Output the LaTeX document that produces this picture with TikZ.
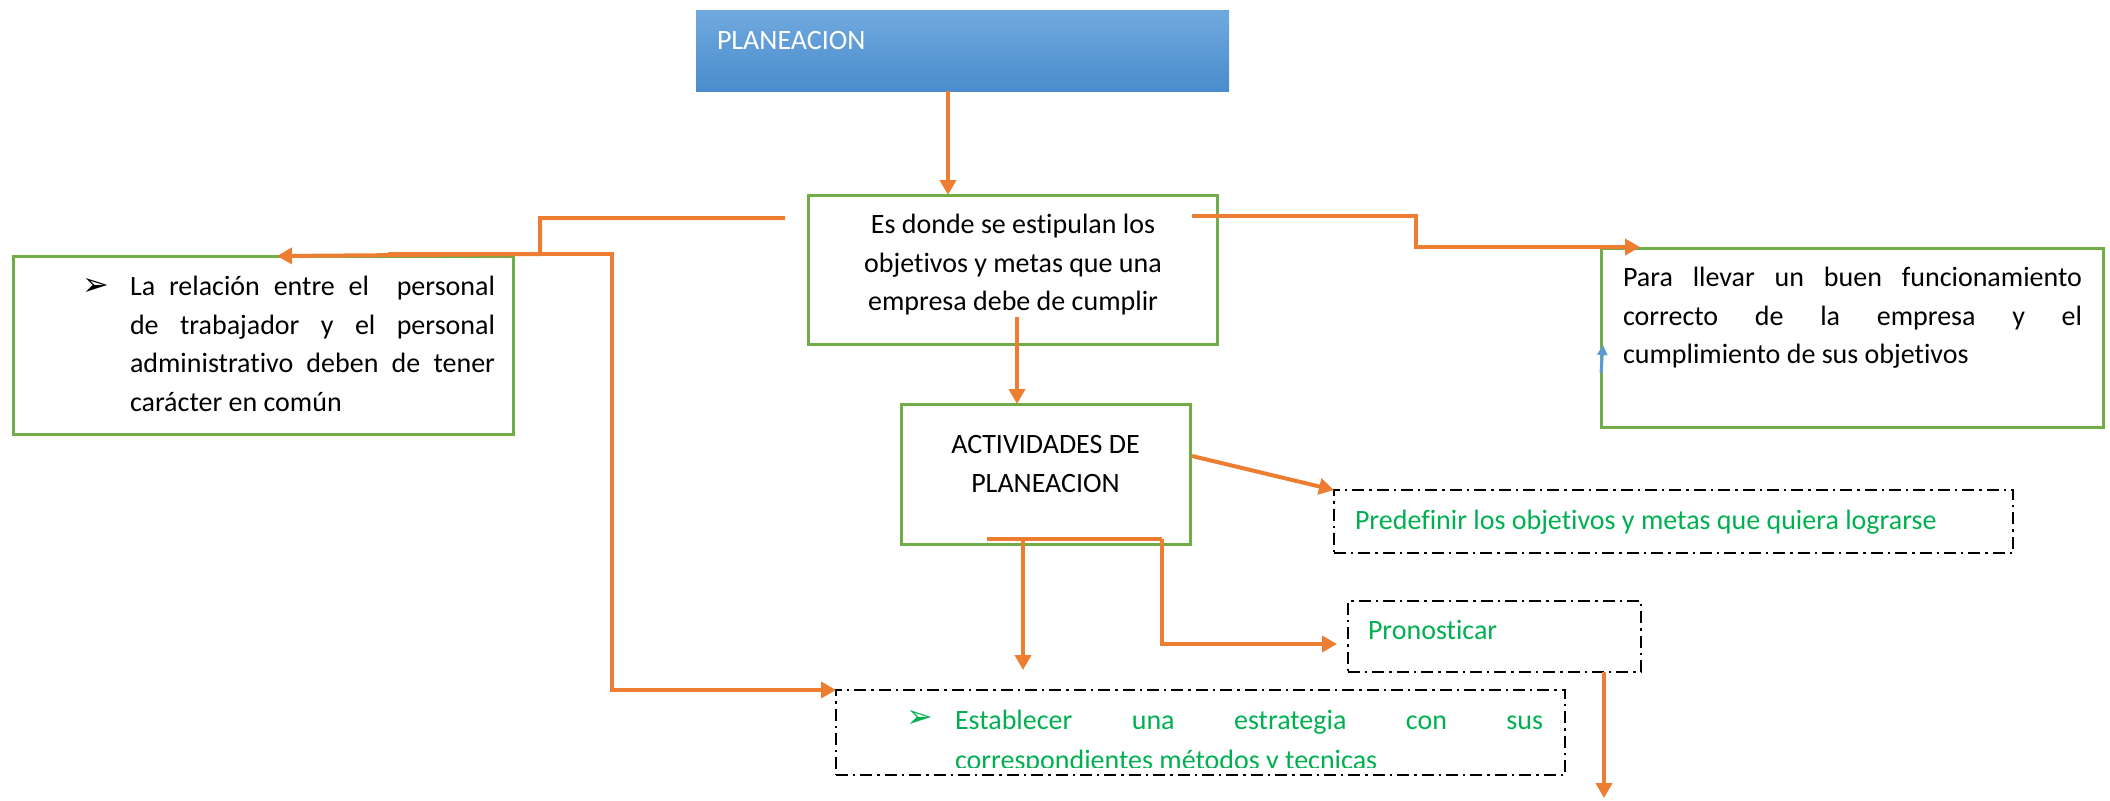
\documentclass[tikz,border=0pt]{standalone}
\usepackage{fontspec}
\setmainfont{Carlito}[Ligatures=NoCommon]
\newfontfamily\dejavu{DejaVu Sans}
\usetikzlibrary{arrows.meta,calc}
\definecolor{ogreen}{HTML}{70AD47}
\definecolor{oorange}{HTML}{ED7D31}
\definecolor{tgreen}{HTML}{00B050}
\definecolor{oblue}{HTML}{5B9BD5}
\definecolor{btop}{HTML}{70A9DE}
\definecolor{bbot}{HTML}{4A8CCD}
\begin{document}
\begin{tikzpicture}[x=0.5pt,y=-0.5pt,
  gbox/.style={draw=ogreen,line width=1.5pt,inner sep=0pt,outer sep=0pt},
  dbox/.style={draw=black,line width=1.25pt,dash pattern=on 6pt off 2.5pt on 1.2pt off 2.5pt,inner sep=0pt,outer sep=0pt},
  conn/.style={draw=oorange,line width=2pt,-{Triangle[length=7.5pt,width=8pt]}},
  oline/.style={draw=oorange,line width=2pt},
  txt/.style={inner sep=0pt,outer sep=0pt,font=\fontsize{14}{19.25}\selectfont},
  bul/.style={inner sep=0pt,outer sep=0pt,font=\dejavu\fontsize{16}{18}\selectfont},
]
\useasboundingbox (0,0) rectangle (2110,800);

% boxes
\node[top color=btop,bottom color=bbot,draw=none,inner sep=0pt,outer sep=0pt,
      minimum width=266.5pt,minimum height=40.5pt] (plan) at (962.5,50.5) {};
\node[gbox,minimum width=204.5pt,minimum height=74.5pt] (es) at (1012.5,269.5) {};
\node[gbox,minimum width=144.5pt,minimum height=70pt] (act) at (1045.5,474) {};
\node[gbox,minimum width=250pt,minimum height=89pt] (rel) at (263,345) {};
\node[gbox,minimum width=251pt,minimum height=89.5pt] (para) at (1852,337.5) {};
\node[dbox,minimum width=339.5pt,minimum height=31.5pt] (pred) at (1673.5,521.5) {};
\node[dbox,minimum width=146.5pt,minimum height=35.5pt] (pron) at (1494.5,636.5) {};
\node[dbox,minimum width=364.5pt,minimum height=42.5pt] (est) at (1200.5,732.5) {};

% texts
\node[txt,anchor=base west,text=white] (tplan) at (717,49) {PLANEACION};
\node[txt,anchor=north,align=center] (tes) at (1013,207)
  {\strut Es donde se estipulan los\\objetivos y metas que una\\empresa debe de cumplir};
\node[txt,anchor=north,align=center] (tact) at (1045.5,427)
  {\strut ACTIVIDADES DE\\PLANEACION};
\node[bul,anchor=base west] (brel) at (82,295) {➢};
\node[txt,anchor=north west,text width=182.5pt,align=justify] (trel) at (130,269)
  {\strut La relación entre el\ \ personal\linebreak de trabajador y el personal\linebreak administrativo deben de tener\linebreak carácter en común};
\node[txt,anchor=north west,text width=229.5pt,align=justify] (tpara) at (1623,260)
  {\strut Para llevar un buen funcionamiento\linebreak correcto de la empresa y el\linebreak cumplimiento de sus objetivos};
\node[txt,anchor=base west,text=tgreen] (tpred) at (1355,529)
  {Predefinir los objetivos y metas que quiera lograrse};
\node[txt,anchor=base west,text=tgreen] (tpron) at (1368,639) {Pronosticar};
\node[bul,anchor=base west,text=tgreen] (best) at (906,727) {➢};
\begin{scope}
  \clip (836,690) rectangle (1565,767);
  \node[txt,anchor=north west,text width=294pt,align=justify,text=tgreen,
        font=\fontsize{14}{20}\selectfont] (test) at (955,701)
    {\strut Establecer una estrategia con sus\linebreak correspondientes métodos y tecnicas};
\end{scope}

% connector end points
\coordinate (c1) at (948,0);
\coordinate (c2) at (1017,317);
\coordinate (c3) at (785,218);
\coordinate (c3e) at (277,0);
\coordinate (c4) at (388,254);
\coordinate (c5) at (1192,216);
\coordinate (c5e) at (1640,247);
\coordinate (c6) at (1192,456);
\coordinate (c7) at (987,539);
\coordinate (c7a) at (1023,539);
\coordinate (c7e) at (1023,670);
\coordinate (c8) at (1162,539);
\coordinate (c8e) at (1337,644);
\coordinate (c9) at (1604,0);
\coordinate (c9e) at (1604,798);
\coordinate (b1) at (1601,373);
\coordinate (b1e) at (1603,345);

% connectors
\draw[conn] (plan.south -| c1) -- (es.north -| c1);
\draw[conn] (c2) -- (act.north -| c2);
\draw[conn] (c3) -- (540,218) -- (540,254) -- (rel.north -| c3e);
\draw[conn] (c4) -- (612,254) -- (612,690) -- (est.north west);
\draw[conn] (c5) -- (1416,216) -- (1416,247) -- (c5e);
\draw[conn] (c6) -- (pred.north west);
\draw[oline] (c7) -- (c8);
\draw[conn] (c7a) -- (c7e);
\draw[conn] (c8) -- (1162,644) -- (c8e);
\draw[conn] (pron.south -| c9) -- (c9e);
\draw[draw=oblue,line width=1.5pt,-{Triangle[length=5pt,width=5pt]}] (b1) -- (b1e);
\end{tikzpicture}
\end{document}
